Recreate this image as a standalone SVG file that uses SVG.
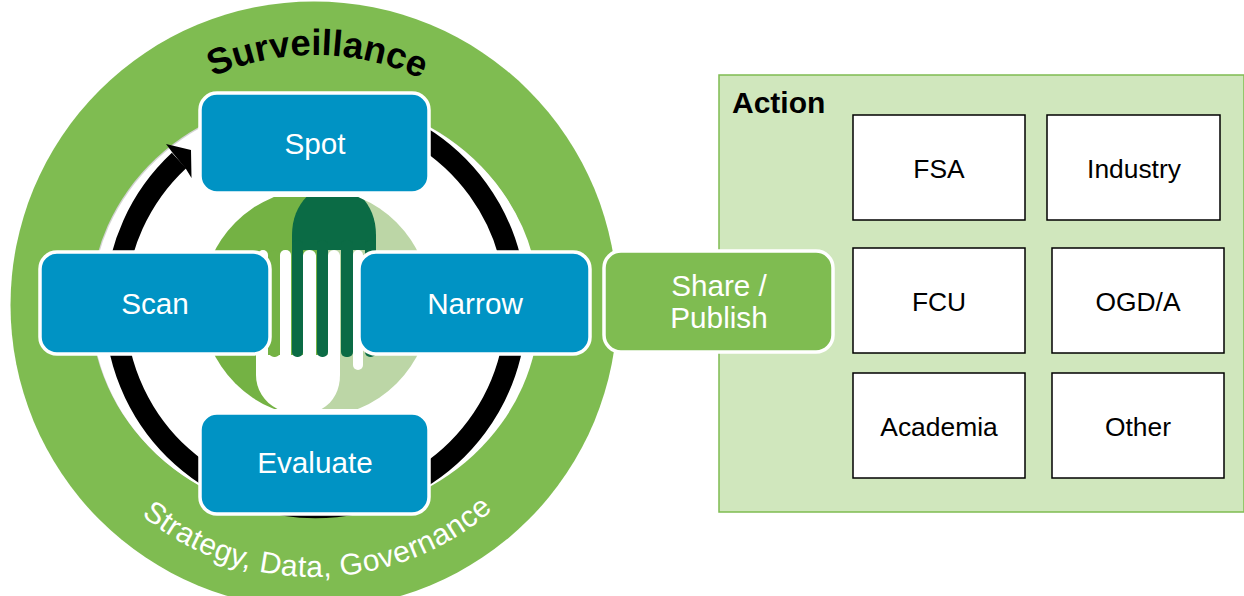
<svg xmlns="http://www.w3.org/2000/svg" width="1244" height="596" viewBox="0 0 1244 596">
<style>
text{font-family:"Liberation Sans",Arial,sans-serif}
.b{fill:#0093c4;stroke:#fff;stroke-width:3.5}
.w{fill:#fff;font-size:29.7px;text-anchor:middle}
.k{fill:#000;font-size:26.4px;text-anchor:middle}
.a{fill:#fff;stroke:#000;stroke-width:1.5}
</style>
<defs>
<clipPath id="cl"><path d="M201 197H431V409H201Z"/></clipPath>
<clipPath id="cc"><circle cx="316" cy="303" r="114"/></clipPath>
<path id="top" d="M65 305A250 250 0 0 1 565 305" fill="none"/>
<path id="bot" d="M42 305A272 272 0 0 0 586 305" fill="none"/>
</defs>
<g id="surveillance-ring">
<circle cx="314" cy="305" r="303.500" fill="#7fbc51"/>
<ellipse cx="314.500" cy="306" rx="224" ry="209" fill="#d4d4d4"/>
<ellipse cx="315.500" cy="307" rx="224" ry="209" fill="#fff"/>
<text font-size="36.500" font-weight="bold" fill="#000" text-anchor="middle"><textPath href="#top" startOffset="50.300%">Surveillance</textPath></text>
<text font-size="30" fill="#fff" letter-spacing="0.5" text-anchor="middle"><textPath href="#bot" startOffset="50.500%">Strategy, Data, Governance</textPath></text>
</g>
<g id="connectors">
<path d="M179 160.500A200.500 200.500 0 1 0 420 136" fill="none" stroke="#000" stroke-width="21"/>
<path d="M166 144L191 150 191.500 178 186 169 172 152Z" fill="#000"/>
</g>
<g id="fork-logo" clip-path="url(#cl)"><g clip-path="url(#cc)">
<rect x="200" y="190" width="118" height="225" fill="#74b244"/>
<rect x="318" y="190" width="115" height="225" fill="#bcd6a6"/>
<path d="M292 250V235C292 205 312 185 334 185S376 205 376 235V250Z" fill="#0b6b45"/>
<g fill="#fff">
<rect x="258" y="250" width="10" height="120" rx="5"/><rect x="280" y="250" width="11" height="120" rx="5"/><rect x="303" y="250" width="13" height="120" rx="6"/><rect x="328" y="250" width="12" height="120" rx="6"/><rect x="353" y="250" width="10" height="120" rx="5"/>
<path d="M256 355H340V375C340 395 328 414 300 414S256 395 256 375Z"/>
</g>
<g fill="#0b6b45">
<rect x="292" y="240" width="11" height="117" rx="5"/><rect x="317" y="240" width="11" height="117" rx="5"/><rect x="341" y="240" width="12" height="117" rx="5"/><rect x="365" y="240" width="11" height="117" rx="5"/>
</g>
<rect x="269" y="250" width="11" height="107" rx="5" fill="#74b244"/>
</g></g>
<g id="spot"><rect class="b" x="200" y="93" width="229" height="100" rx="17"/><text class="w" x="315" y="154">Spot</text></g>
<g id="scan"><rect class="b" x="40" y="252" width="230" height="102" rx="17"/><text class="w" x="155" y="314">Scan</text></g>
<g id="narrow"><rect class="b" x="359" y="252" width="231" height="102" rx="17"/><text class="w" x="475" y="314">Narrow</text></g>
<g id="evaluate"><rect class="b" x="200" y="413" width="229" height="101" rx="17"/><text class="w" x="315" y="473">Evaluate</text></g>
<g id="action"><rect x="719" y="75" width="525" height="437" fill="#d0e7bd" stroke="#7fbc51" stroke-width="1.5"/><text x="732" y="113" font-size="30" font-weight="bold" fill="#000">Action</text></g>
<g id="share"><rect x="604" y="251" width="229" height="101" rx="17" fill="#7fbc51" stroke="#fff" stroke-width="3.5"/><text class="w" x="719" y="296">Share /</text><text class="w" x="719" y="328">Publish</text></g>
<g id="fsa"><rect class="a" x="853" y="115" width="172" height="105"/><text class="k" x="939" y="178">FSA</text></g>
<g id="industry"><rect class="a" x="1047" y="115" width="173" height="105"/><text class="k" x="1134" y="178">Industry</text></g>
<g id="fcu"><rect class="a" x="853" y="248" width="172" height="105"/><text class="k" x="939" y="311">FCU</text></g>
<g id="ogd"><rect class="a" x="1052" y="248" width="172" height="105"/><text class="k" x="1138" y="311">OGD/A</text></g>
<g id="academia"><rect class="a" x="853" y="373" width="172" height="105"/><text class="k" x="939" y="436">Academia</text></g>
<g id="other"><rect class="a" x="1052" y="373" width="172" height="105"/><text class="k" x="1138" y="436">Other</text></g>
</svg>
